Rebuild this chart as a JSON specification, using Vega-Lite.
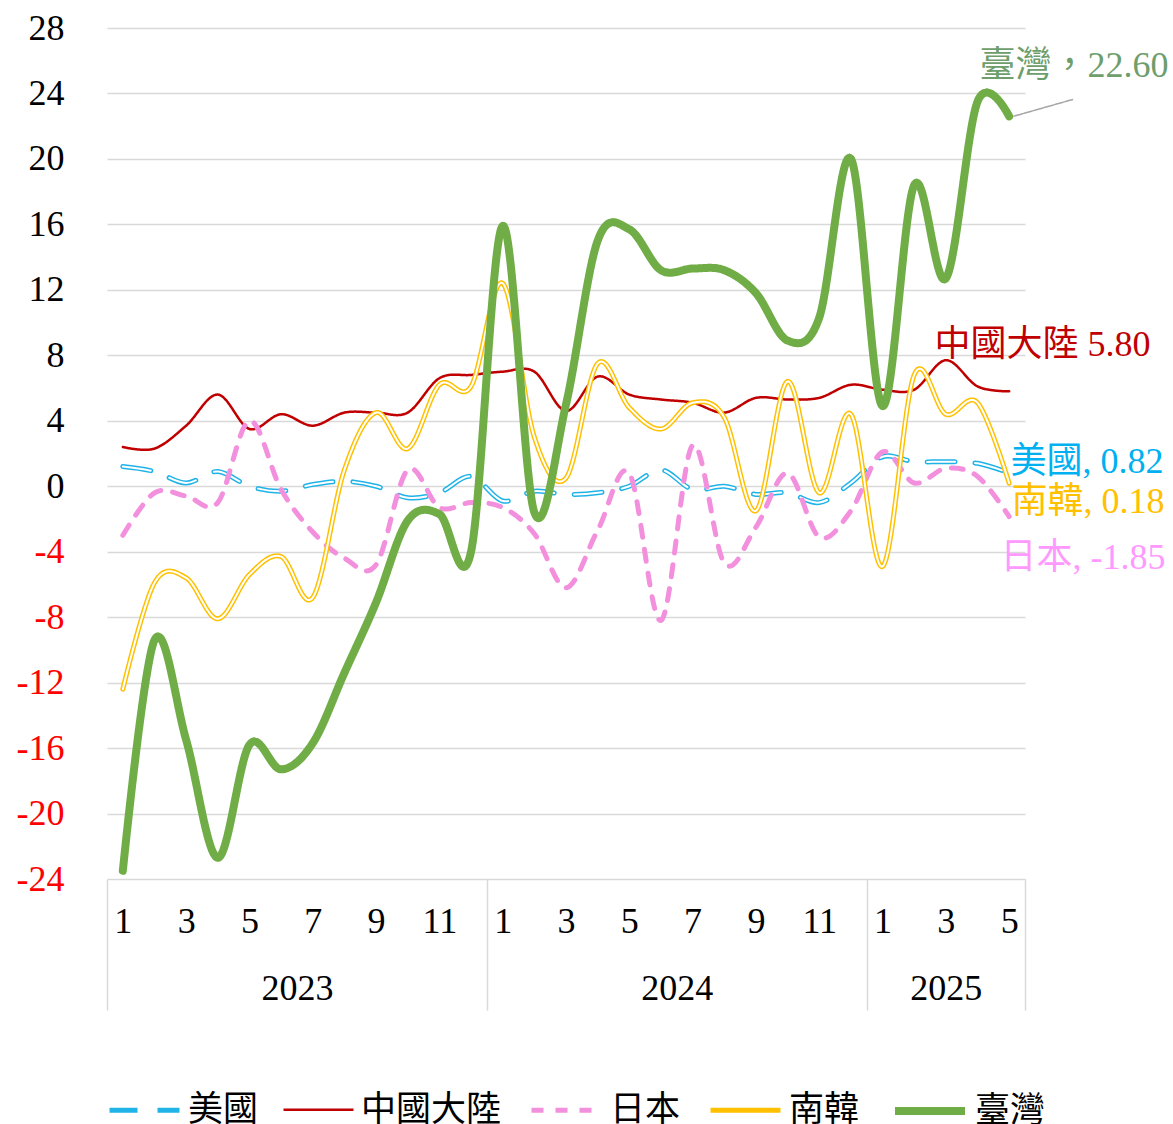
{
  "$schema": "https://vega.github.io/schema/vega-lite/v6.json",
  "width": 918,
  "height": 851,
  "autosize": {"type": "none"},
  "padding": {"left": 107, "top": 28, "right": 148, "bottom": 245},
  "background": "white",
  "config": {"view": {"stroke": null}},
  "datasets": {
    "series": [
      {"series": "美國", "idx": 0, "value": 1.2}, {"series": "美國", "idx": 1, "value": 0.9}, {"series": "美國", "idx": 2, "value": 0.2}, {"series": "美國", "idx": 3, "value": 0.9}, {"series": "美國", "idx": 4, "value": 0.0}, {"series": "美國", "idx": 5, "value": -0.3}, {"series": "美國", "idx": 6, "value": 0.1}, {"series": "美國", "idx": 7, "value": 0.3}, {"series": "美國", "idx": 8, "value": 0.0}, {"series": "美國", "idx": 9, "value": -0.7}, {"series": "美國", "idx": 10, "value": -0.4}, {"series": "美國", "idx": 11, "value": 0.6}, {"series": "美國", "idx": 12, "value": -0.9}, {"series": "美國", "idx": 13, "value": -0.3}, {"series": "美國", "idx": 14, "value": -0.5}, {"series": "美國", "idx": 15, "value": -0.4}, {"series": "美國", "idx": 16, "value": 0.0}, {"series": "美國", "idx": 17, "value": 1.0}, {"series": "美國", "idx": 18, "value": -0.2}, {"series": "美國", "idx": 19, "value": 0.0}, {"series": "美國", "idx": 20, "value": -0.5}, {"series": "美國", "idx": 21, "value": -0.4}, {"series": "美國", "idx": 22, "value": -1.0}, {"series": "美國", "idx": 23, "value": 0.2}, {"series": "美國", "idx": 24, "value": 1.8}, {"series": "美國", "idx": 25, "value": 1.5}, {"series": "美國", "idx": 26, "value": 1.5}, {"series": "美國", "idx": 27, "value": 1.4}, {"series": "美國", "idx": 28, "value": 0.82},
      {"series": "中國大陸", "idx": 0, "value": 2.4}, {"series": "中國大陸", "idx": 1, "value": 2.3}, {"series": "中國大陸", "idx": 2, "value": 3.7}, {"series": "中國大陸", "idx": 3, "value": 5.6}, {"series": "中國大陸", "idx": 4, "value": 3.5}, {"series": "中國大陸", "idx": 5, "value": 4.4}, {"series": "中國大陸", "idx": 6, "value": 3.7}, {"series": "中國大陸", "idx": 7, "value": 4.5}, {"series": "中國大陸", "idx": 8, "value": 4.5}, {"series": "中國大陸", "idx": 9, "value": 4.5}, {"series": "中國大陸", "idx": 10, "value": 6.6}, {"series": "中國大陸", "idx": 11, "value": 6.8}, {"series": "中國大陸", "idx": 12, "value": 7.0}, {"series": "中國大陸", "idx": 13, "value": 7.0}, {"series": "中國大陸", "idx": 14, "value": 4.6}, {"series": "中國大陸", "idx": 15, "value": 6.7}, {"series": "中國大陸", "idx": 16, "value": 5.6}, {"series": "中國大陸", "idx": 17, "value": 5.3}, {"series": "中國大陸", "idx": 18, "value": 5.1}, {"series": "中國大陸", "idx": 19, "value": 4.5}, {"series": "中國大陸", "idx": 20, "value": 5.4}, {"series": "中國大陸", "idx": 21, "value": 5.3}, {"series": "中國大陸", "idx": 22, "value": 5.4}, {"series": "中國大陸", "idx": 23, "value": 6.2}, {"series": "中國大陸", "idx": 24, "value": 5.9}, {"series": "中國大陸", "idx": 25, "value": 5.9}, {"series": "中國大陸", "idx": 26, "value": 7.7}, {"series": "中國大陸", "idx": 27, "value": 6.1}, {"series": "中國大陸", "idx": 28, "value": 5.8},
      {"series": "日本", "idx": 0, "value": -3.0}, {"series": "日本", "idx": 1, "value": -0.4}, {"series": "日本", "idx": 2, "value": -0.6}, {"series": "日本", "idx": 3, "value": -1.0}, {"series": "日本", "idx": 4, "value": 4.0}, {"series": "日本", "idx": 5, "value": -0.2}, {"series": "日本", "idx": 6, "value": -2.8}, {"series": "日本", "idx": 7, "value": -4.4}, {"series": "日本", "idx": 8, "value": -4.8}, {"series": "日本", "idx": 9, "value": 1.0}, {"series": "日本", "idx": 10, "value": -1.3}, {"series": "日本", "idx": 11, "value": -1.0}, {"series": "日本", "idx": 12, "value": -1.3}, {"series": "日本", "idx": 13, "value": -2.9}, {"series": "日本", "idx": 14, "value": -6.2}, {"series": "日本", "idx": 15, "value": -2.7}, {"series": "日本", "idx": 16, "value": 0.8}, {"series": "日本", "idx": 17, "value": -8.2}, {"series": "日本", "idx": 18, "value": 2.5}, {"series": "日本", "idx": 19, "value": -4.7}, {"series": "日本", "idx": 20, "value": -2.5}, {"series": "日本", "idx": 21, "value": 0.8}, {"series": "日本", "idx": 22, "value": -3.1}, {"series": "日本", "idx": 23, "value": -1.5}, {"series": "日本", "idx": 24, "value": 2.1}, {"series": "日本", "idx": 25, "value": 0.2}, {"series": "日本", "idx": 26, "value": 1.1}, {"series": "日本", "idx": 27, "value": 0.6}, {"series": "日本", "idx": 28, "value": -1.85},
      {"series": "南韓", "idx": 0, "value": -12.4}, {"series": "南韓", "idx": 1, "value": -5.9}, {"series": "南韓", "idx": 2, "value": -5.6}, {"series": "南韓", "idx": 3, "value": -8.1}, {"series": "南韓", "idx": 4, "value": -5.4}, {"series": "南韓", "idx": 5, "value": -4.3}, {"series": "南韓", "idx": 6, "value": -6.8}, {"series": "南韓", "idx": 7, "value": 1.0}, {"series": "南韓", "idx": 8, "value": 4.5}, {"series": "南韓", "idx": 9, "value": 2.3}, {"series": "南韓", "idx": 10, "value": 6.2}, {"series": "南韓", "idx": 11, "value": 6.1}, {"series": "南韓", "idx": 12, "value": 12.4}, {"series": "南韓", "idx": 13, "value": 3.0}, {"series": "南韓", "idx": 14, "value": 0.5}, {"series": "南韓", "idx": 15, "value": 7.5}, {"series": "南韓", "idx": 16, "value": 4.8}, {"series": "南韓", "idx": 17, "value": 3.5}, {"series": "南韓", "idx": 18, "value": 5.1}, {"series": "南韓", "idx": 19, "value": 4.2}, {"series": "南韓", "idx": 20, "value": -1.5}, {"series": "南韓", "idx": 21, "value": 6.4}, {"series": "南韓", "idx": 22, "value": -0.4}, {"series": "南韓", "idx": 23, "value": 4.4}, {"series": "南韓", "idx": 24, "value": -4.9}, {"series": "南韓", "idx": 25, "value": 6.8}, {"series": "南韓", "idx": 26, "value": 4.4}, {"series": "南韓", "idx": 27, "value": 5.1}, {"series": "南韓", "idx": 28, "value": 0.18},
      {"series": "臺灣", "idx": 0, "value": -23.5}, {"series": "臺灣", "idx": 1, "value": -9.4}, {"series": "臺灣", "idx": 2, "value": -15.5}, {"series": "臺灣", "idx": 3, "value": -22.7}, {"series": "臺灣", "idx": 4, "value": -15.8}, {"series": "臺灣", "idx": 5, "value": -17.3}, {"series": "臺灣", "idx": 6, "value": -15.7}, {"series": "臺灣", "idx": 7, "value": -11.4}, {"series": "臺灣", "idx": 8, "value": -7.1}, {"series": "臺灣", "idx": 9, "value": -2.1}, {"series": "臺灣", "idx": 10, "value": -1.7}, {"series": "臺灣", "idx": 11, "value": -4.0}, {"series": "臺灣", "idx": 12, "value": 15.9}, {"series": "臺灣", "idx": 13, "value": -1.6}, {"series": "臺灣", "idx": 14, "value": 5.0}, {"series": "臺灣", "idx": 15, "value": 15.0}, {"series": "臺灣", "idx": 16, "value": 15.7}, {"series": "臺灣", "idx": 17, "value": 13.2}, {"series": "臺灣", "idx": 18, "value": 13.3}, {"series": "臺灣", "idx": 19, "value": 13.2}, {"series": "臺灣", "idx": 20, "value": 11.8}, {"series": "臺灣", "idx": 21, "value": 8.9}, {"series": "臺灣", "idx": 22, "value": 10.3}, {"series": "臺灣", "idx": 23, "value": 20.0}, {"series": "臺灣", "idx": 24, "value": 4.9}, {"series": "臺灣", "idx": 25, "value": 18.4}, {"series": "臺灣", "idx": 26, "value": 12.7}, {"series": "臺灣", "idx": 27, "value": 23.5}, {"series": "臺灣", "idx": 28, "value": 22.6}
    ],
    "labels": [
      {"series": "臺灣", "label": "臺灣，22.60", "lx": 30.05, "ly": 25.66},
      {"series": "中國大陸", "label": "中國大陸 5.80", "lx": 29.05, "ly": 8.61},
      {"series": "美國", "label": "美國, 0.82", "lx": 30.46, "ly": 1.47},
      {"series": "南韓", "label": "南韓, 0.18", "lx": 30.49, "ly": -0.98},
      {"series": "日本", "label": "日本, -1.85", "lx": 30.33, "ly": -4.4}
    ],
    "leader": [
      {"x1": 28.13, "y1": 22.6, "x2": 30.02, "y2": 23.64}
    ]
  },
  "resolve": {"scale": {"x": "independent"}, "axis": {"x": "independent"}},
  "layer": [
    {
      "data": {"name": "series"},
      "encoding": {
        "x": {"field": "idx", "type": "quantitative", "scale": {"domain": [-0.5, 28.5], "nice": false, "zero": false},
          "axis": {"orient": "bottom", "values": [0, 2, 4, 6, 8, 10, 12, 14, 16, 18, 20, 22, 24, 26, 28], "labelExpr": "(datum.value % 12) + 1", "ticks": false, "domain": false, "grid": false, "title": null, "labelFont": "Liberation Serif", "labelFontSize": 36, "labelColor": "#000000", "labelBaseline": "middle", "labelPadding": 42, "labelFlush": false, "labelOverlap": false}},
        "y": {"field": "value", "type": "quantitative", "scale": {"domain": [-24, 28], "nice": false, "zero": false},
          "axis": {"values": [-24, -20, -16, -12, -8, -4, 0, 4, 8, 12, 16, 20, 24, 28], "labelExpr": "datum.value < 0 ? '-' + abs(datum.value) : '' + datum.value", "grid": true, "gridColor": "#d9d9d9", "gridWidth": 1.5, "ticks": false, "domain": false, "title": null, "labelFont": "Liberation Serif", "labelFontSize": 36, "labelColor": {"condition": {"test": "datum.value < 0", "value": "#FF0000"}, "value": "#000000"}, "labelPadding": 43, "labelFlush": false, "labelOverlap": false}},
        "color": {"field": "series", "type": "nominal", "scale": {"domain": ["美國", "中國大陸", "日本", "南韓", "臺灣"], "range": ["#1FB3E8", "#C00000", "#F390DD", "#FFC000", "#70AD47"]},
          "legend": {"orient": "none", "legendX": 0, "legendY": 1044, "direction": "horizontal", "title": null, "labelFont": "Noto Sans CJK TC", "labelFontSize": 35, "labelColor": "#000000", "symbolType": "stroke", "symbolSize": 4900, "columnPadding": 19, "labelOffset": 6, "labelLimit": 300, "padding": 0}},
        "strokeDash": {"field": "series", "type": "nominal", "scale": {"type": "ordinal", "domain": ["美國", "中國大陸", "日本", "南韓", "臺灣"], "range": [[28, 20], [1, 0], [12, 12], [1, 0], [1, 0]]}},
        "strokeWidth": {"field": "series", "type": "nominal", "scale": {"type": "ordinal", "domain": ["美國", "中國大陸", "日本", "南韓", "臺灣"], "range": [5, 2.5, 5, 5, 8]}}
      },
      "layer": [
        {
          "transform": [{"filter": "datum.series === '美國'"}],
          "mark": {"type": "line", "interpolate": "cardinal", "tension": 0, "strokeCap": "round"}
        },
        {
          "transform": [{"filter": "datum.series === '美國'"}],
          "mark": {"type": "line", "interpolate": "cardinal", "tension": 0, "strokeCap": "round"},
          "encoding": {"color": {"value": "white"}, "strokeWidth": {"value": 2}, "strokeDash": {"value": [28, 20]}, "detail": {"field": "series"}}
        },
        {
          "transform": [{"filter": "datum.series === '中國大陸'"}],
          "mark": {"type": "line", "interpolate": "cardinal", "tension": 0, "strokeCap": "round"}
        },
        {
          "transform": [{"filter": "datum.series === '日本'"}],
          "mark": {"type": "line", "interpolate": "cardinal", "tension": 0, "strokeCap": "round"}
        },
        {
          "transform": [{"filter": "datum.series === '南韓'"}],
          "mark": {"type": "line", "interpolate": "cardinal", "tension": 0, "strokeCap": "round"}
        },
        {
          "transform": [{"filter": "datum.series === '南韓'"}],
          "mark": {"type": "line", "interpolate": "cardinal", "tension": 0, "strokeCap": "round"},
          "encoding": {"color": {"value": "white"}, "strokeWidth": {"value": 2}, "strokeDash": {"value": [1, 0]}, "detail": {"field": "series"}}
        },
        {
          "transform": [{"filter": "datum.series === '臺灣'"}],
          "mark": {"type": "line", "interpolate": "cardinal", "tension": 0, "strokeCap": "round"}
        },
        {
          "data": {"name": "leader"},
          "mark": {"type": "rule"},
          "encoding": {
            "x": {"field": "x1", "type": "quantitative"},
            "y": {"field": "y1", "type": "quantitative"},
            "x2": {"field": "x2"},
            "y2": {"field": "y2"},
            "color": {"value": "#A6A6A6"},
            "strokeDash": {"value": [1, 0]},
            "strokeWidth": {"value": 1.5}
          }
        },
        {
          "data": {"name": "labels"},
          "mark": {"type": "text", "font": "Liberation Serif, Noto Sans CJK TC", "fontSize": 36, "align": "center", "baseline": "middle"},
          "encoding": {
            "x": {"field": "lx", "type": "quantitative"},
            "y": {"field": "ly", "type": "quantitative"},
            "text": {"field": "label"},
            "strokeDash": {"value": [1, 0]},
            "strokeWidth": {"value": 0},
            "color": {"condition": [
              {"test": "datum.series === '臺灣'", "value": "#6E9E6B"},
              {"test": "datum.series === '中國大陸'", "value": "#C00000"},
              {"test": "datum.series === '美國'", "value": "#00B0F0"},
              {"test": "datum.series === '南韓'", "value": "#FFC000"}
            ], "value": "#FF99FF"}
          }
        }
      ]
    },
    {
      "data": {"name": "series"},
      "mark": {"type": "point", "opacity": 0},
      "encoding": {
        "x": {"field": "idx", "type": "quantitative", "scale": {"domain": [-0.5, 28.5], "nice": false, "zero": false},
          "axis": {"orient": "bottom", "values": [5.5, 17.5, 26], "labelExpr": "datum.value < 12 ? '2023' : (datum.value < 24 ? '2024' : '2025')", "ticks": false, "domain": false, "grid": false, "title": null, "labelFont": "Liberation Serif", "labelFontSize": 36, "labelColor": "#000000", "labelBaseline": "middle", "labelPadding": 109, "labelFlush": false, "labelOverlap": false}}
      }
    },
    {
      "data": {"name": "series"},
      "mark": {"type": "point", "opacity": 0},
      "encoding": {
        "x": {"field": "idx", "type": "quantitative", "scale": {"domain": [-0.5, 28.5], "nice": false, "zero": false},
          "axis": {"orient": "bottom", "values": [-0.5, 11.5, 23.5, 28.5], "labels": false, "ticks": true, "tickSize": 131, "tickColor": "#d9d9d9", "tickWidth": 1.5, "domain": false, "grid": false, "title": null}}
      }
    }
  ]
}
